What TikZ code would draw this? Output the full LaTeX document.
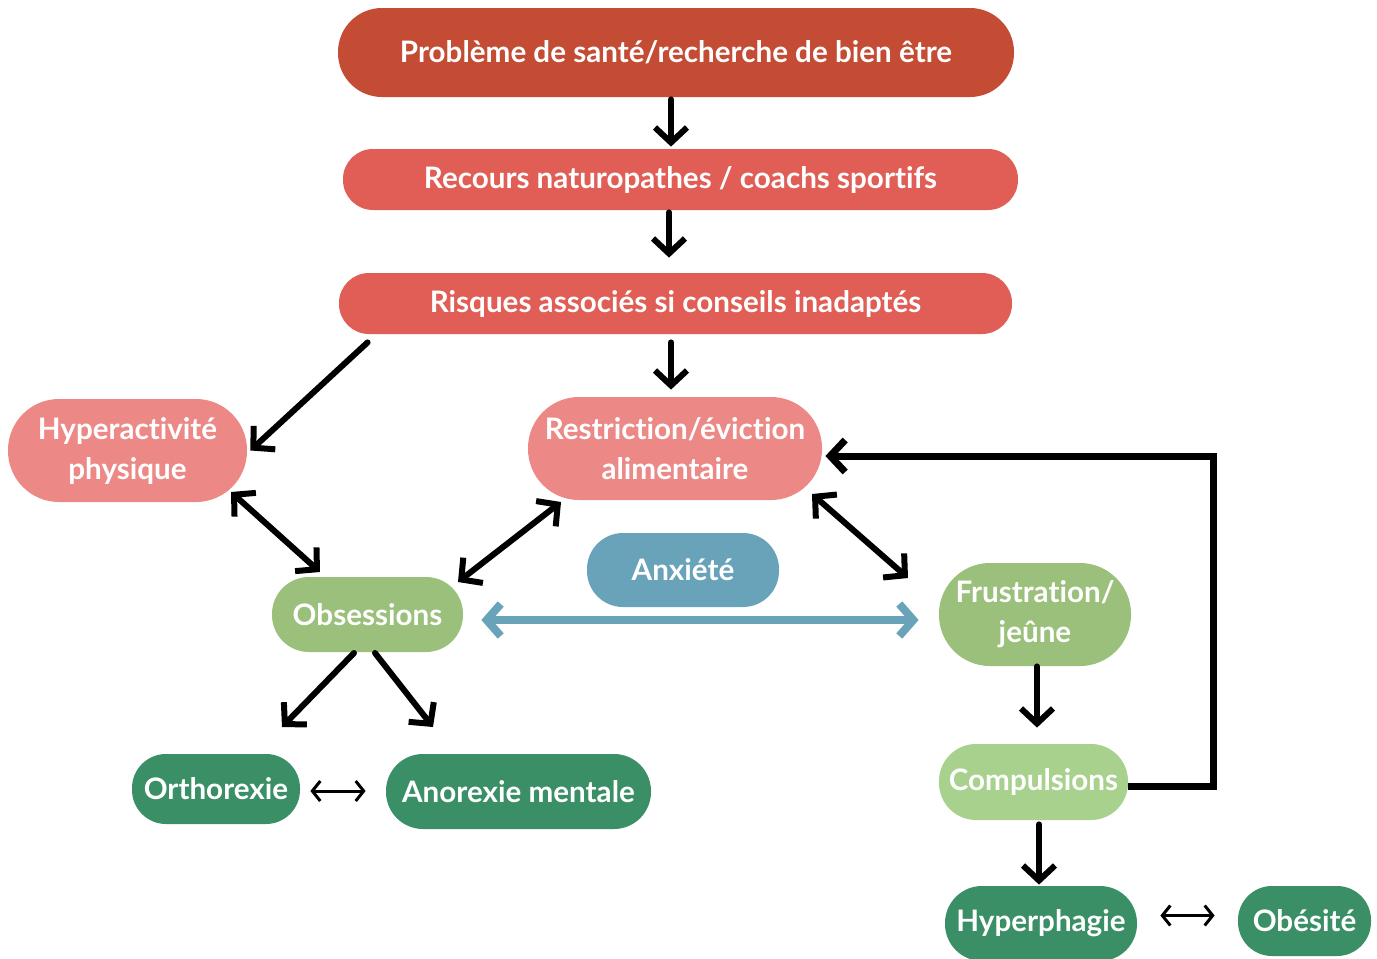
\documentclass[tikz,border=0pt]{standalone}
\usepackage{fontspec}
\setmainfont{Lato}[Ligatures={NoCommon,NoRare,NoContextual}]
\usetikzlibrary{arrows.meta,calc}
\definecolor{cTop}{HTML}{C44B34}
\definecolor{cRed}{HTML}{E05E55}
\definecolor{cPink}{HTML}{EC8987}
\definecolor{cLgreen}{HTML}{9BC07C}
\definecolor{cLLgreen}{HTML}{A9D18E}
\definecolor{cDgreen}{HTML}{3A8F66}
\definecolor{cBlue}{HTML}{68A3BA}
\tikzset{
  pill/.style={rectangle, draw=none, inner sep=0pt, align=center, text=white,
    font=\fontsize{14.8}{20}\selectfont\bfseries},
  bigarrow/.style={line width=3pt, line cap=round, line join=round,
    -{Straight Barb[length=7.5pt,width=16pt]}},
  bigdarrow/.style={line width=3pt, line cap=round,
    {Straight Barb[length=7.5pt,width=16pt]}-{Straight Barb[length=7.5pt,width=16pt]}},
  thindarrow/.style={line width=1.5pt, line cap=round,
    {Straight Barb[length=4pt,width=10pt]}-{Straight Barb[length=4pt,width=10pt]}},
  bluedarrow/.style={line width=4pt, line cap=round, draw=cBlue,
    {Straight Barb[length=7pt,width=16pt]}-{Straight Barb[length=7pt,width=16pt]}},
}
\begin{document}
\begin{tikzpicture}[x=0.5pt,y=-0.5pt]
\useasboundingbox[fill=white] (0,0) rectangle (1377,959);

\node[pill, fill=cTop, minimum width=338pt, minimum height=44.5pt, rounded corners=22pt] (top) at (676,52.5) {\raisebox{1pt}{Problème de santé/recherche de bien être}};
\node[pill, fill=cRed, minimum width=337.5pt, minimum height=30.5pt, rounded corners=15pt] (rec) at (680.5,179.5) {Recours naturopathes / coachs sportifs};
\node[pill, fill=cRed, minimum width=336.5pt, minimum height=30.5pt, rounded corners=15pt] (ris) at (675.5,303.5) {Risques associés si conseils inadaptés};
\node[pill, fill=cPink, minimum width=119.5pt, minimum height=51.5pt, rounded corners=25.5pt] (hyp) at (127.5,450.5) {Hyperactivité\\physique};
\node[pill, fill=cPink, minimum width=147pt, minimum height=51.5pt, rounded corners=25.5pt] (res) at (675,448.5) {Restriction/éviction\\alimentaire};
\node[pill, fill=cBlue, minimum width=96pt, minimum height=37pt, rounded corners=18pt] (anx) at (683,570) {Anxiété};
\node[pill, fill=cLgreen, minimum width=95.5pt, minimum height=37.5pt, rounded corners=18.5pt] (obs) at (367.5,614.5) {Obsessions};
\node[pill, fill=cLgreen, minimum width=96pt, minimum height=51.5pt, rounded corners=25.5pt] (fru) at (1035,614.5) {Frustration/\\jeûne};
\node[pill, fill=cLLgreen, minimum width=94.5pt, minimum height=38pt, rounded corners=18.5pt] (com) at (1033.5,782) {Compulsions};
\node[pill, fill=cDgreen, minimum width=84pt, minimum height=35pt, rounded corners=17pt] (ort) at (216,789) {\raisebox{1pt}{Orthorexie}};
\node[pill, fill=cDgreen, minimum width=132.5pt, minimum height=37.5pt, rounded corners=18.5pt] (ano) at (518.5,791.5) {Anorexie mentale};
\node[pill, fill=cDgreen, minimum width=96pt, minimum height=37.5pt, rounded corners=18.5pt] (hph) at (1041,923.5) {Hyperphagie};
\node[pill, fill=cDgreen, minimum width=66.5pt, minimum height=35pt, rounded corners=17pt] (obe) at (1304.5,921) {\raisebox{1pt}{Obésité}};

% vertical arrows
\draw[bigarrow] ([xshift=-2.5pt,yshift=-1pt]top.south) -- ([xshift=-2.5pt,yshift=1pt]top.south |- rec.north);
\draw[bigarrow] ([xshift=-5.75pt,yshift=-1pt]rec.south) -- ([xshift=-5.75pt,yshift=7.5pt]rec.south |- ris.north);
\draw[bigarrow] ([xshift=-2.25pt,yshift=-4pt]ris.south) -- ([xshift=-2.25pt,yshift=3.5pt]ris.south |- res.north);

% diagonal arrows
\draw[bigarrow] ($(ris.south west)+(29,8)$) -- ($(hyp.east)+(3,0)$);
\draw[bigdarrow] ($(hyp.center)+(103.5,41.5)$) -- ($(obs.center)+(-47.5,-42.5)$);
\draw[bigdarrow] ($(obs.center)+(90.5,-32.5)$) -- ($(res.center)+(-114,53.5)$);
\draw[bigdarrow] ($(res.center)+(137,45.5)$) -- ($(fru.center)+(-127,-36.5)$);
\draw[bigarrow] ($(obs.center)+(-13.5,38.5)$) -- ($(ort.center)+(66,-62)$);
\draw[bigarrow] ($(obs.center)+(7.5,38.5)$) -- ($(ano.center)+(-85.5,-64.5)$);

% blue double arrow
\draw[bluedarrow] ([xshift=9pt,yshift=-2.75pt]obs.east) -- ([xshift=-10pt,yshift=-2.75pt]obs.east -| fru.west);

% right column
\draw[bigarrow] ([xshift=1pt]fru.south) -- ([xshift=1pt,yshift=8pt]fru.south |- com.north);
\draw[bigarrow] ([xshift=2.75pt,yshift=-2pt]com.south) -- ([xshift=2.75pt,yshift=0.5pt]com.south |- hph.north);
\draw[line width=3.5pt, -{Straight Barb[length=7.5pt,width=16pt]}]
  ([yshift=-2pt]com.east) -- ([xshift=42.5pt,yshift=-2pt]com.east) |- ([xshift=1.5pt,yshift=-3.75pt]res.east);

% thin double arrows
\draw[thindarrow] ([xshift=5pt,yshift=-1pt]ort.east) -- ([xshift=-10pt,yshift=-1pt]ort.east -| ano.west);
\draw[thindarrow] ([xshift=11.5pt,yshift=4pt]hph.east) -- ([xshift=-11.5pt,yshift=4pt]hph.east -| obe.west);
\end{tikzpicture}
\end{document}
